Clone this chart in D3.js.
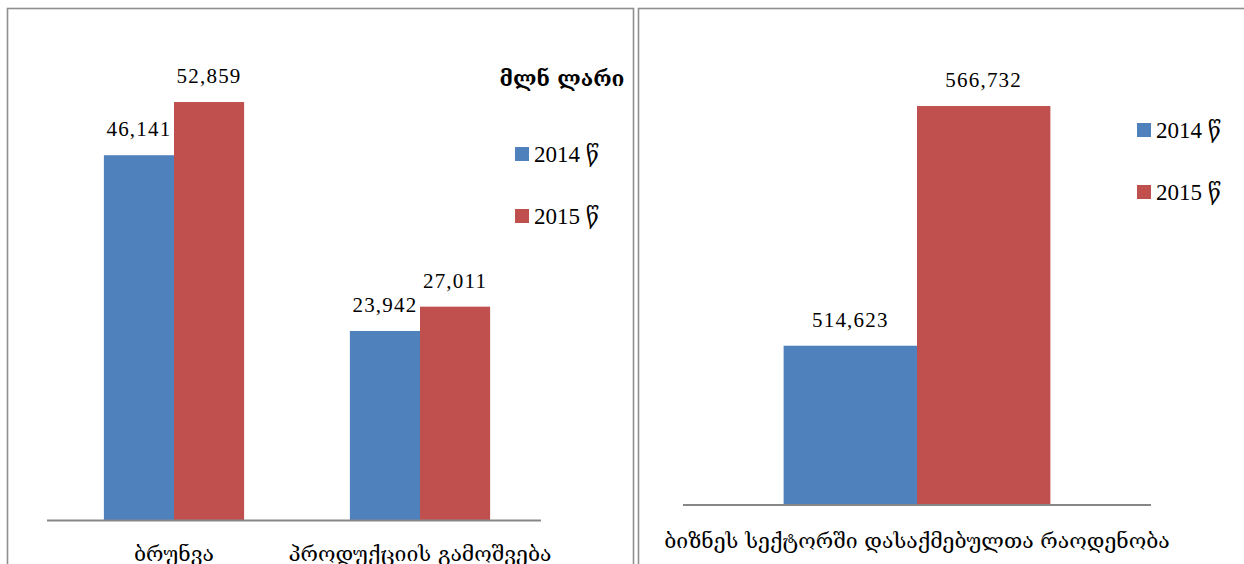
<!DOCTYPE html>
<html>
<head>
<meta charset="utf-8">
<script src="https://cdn.jsdelivr.net/npm/d3@7"></script>
<style>
  body { margin: 0; background: #fff; }
  svg { display: block; font-family: "Liberation Serif", "DejaVu Serif", serif; }
  .axis path { stroke: #878787; stroke-width: 2; }
  .axis .tick line { display: none; }
</style>
</head>
<body>
<div id="chart_div"></div>
<script>
//---------------------------DATA--------------------------------//
const years = ["2014 წ", "2015 წ"];
const colors = ["#4F81BD", "#C0504D"];

const leftCategories = ["ბრუნვა", "პროდუქციის გამოშვება"];
const left2014 = [46141, 23942];
const left2015 = [52859, 27011];
const leftUnit = "მლნ ლარი";
const leftDomain = [0, 60000];

const rightCategories = ["ბიზნეს სექტორში დასაქმებულთა რაოდენობა"];
const right2014 = [514623];
const right2015 = [566732];
const rightDomain = [480000, 580000];

//---------------------------SVG---------------------------------//
const width = 1244;
const height = 564;

const svg = d3.select("#chart_div").append("svg")
  .attr("width", width)
  .attr("height", height);

// panel frames (bottom is cut off by the picture)
svg.append("rect")
  .attr("x", 7.5).attr("y", 8.5)
  .attr("width", 626).attr("height", 600)
  .attr("fill", "none").attr("stroke", "#8f8f8f").attr("stroke-width", 1.6);
svg.append("rect")
  .attr("x", 638.5).attr("y", 8.5)
  .attr("width", 640).attr("height", 600)
  .attr("fill", "none").attr("stroke", "#8f8f8f").attr("stroke-width", 1.6);

const fmt = d3.format(",");

//-------------------------PANELS--------------------------------//
function drawPanel(opt) {
  const rows = opt.categories.map((c, i) => ({
    cat: c,
    vals: [opt.v2014[i], opt.v2015[i]]
  }));

  const x = d3.scaleBand()
    .domain(opt.categories)
    .range(opt.xRange)
    .paddingInner(0.43)
    .paddingOuter(0.215);

  const xIn = d3.scaleBand()
    .domain(years)
    .range([0, x.bandwidth()]);

  const y = d3.scaleLinear()
    .domain(opt.domain)
    .range(opt.yRange);

  const g = svg.append("g");

  const groups = g.selectAll("g.grp")
    .data(rows)
    .enter().append("g")
    .attr("class", "grp")
    .attr("transform", d => "translate(" + x(d.cat) + ",0)");

  groups.selectAll("rect")
    .data(d => d.vals.map((v, j) => ({ year: years[j], v: v, j: j })))
    .enter().append("rect")
    .attr("x", d => xIn(d.year))
    .attr("y", d => y(d.v))
    .attr("width", xIn.bandwidth())
    .attr("height", d => opt.yRange[0] - y(d.v))
    .attr("fill", d => colors[d.j]);

  groups.selectAll("text.val")
    .data(d => d.vals.map((v, j) => ({ year: years[j], v: v, j: j })))
    .enter().append("text")
    .attr("class", "val")
    .attr("x", d => xIn(d.year) + xIn.bandwidth() / 2)
    .attr("y", d => y(d.v) - 19)
    .attr("text-anchor", "middle")
    .attr("font-size", 21)
    .attr("letter-spacing", 1.2)
    .text(d => fmt(d.v));

  // baseline + category labels
  const axis = d3.axisBottom(x)
    .tickSize(0)
    .tickSizeOuter(0)
    .tickPadding(opt.labelPad);

  const ax = g.append("g")
    .attr("class", "axis")
    .attr("transform", "translate(0," + opt.yRange[0] + ")")
    .call(axis);
  ax.select(".domain")
    .attr("d", "M" + opt.lineRange[0] + ",0H" + opt.lineRange[1]);
  ax.selectAll(".tick text")
    .attr("font-size", 21.2)
    .attr("font-family", "'DejaVu Serif', serif")
    .attr("fill", "#000");

  // legend
  const lg = g.append("g")
    .attr("transform", "translate(" + opt.legend[0] + "," + opt.legend[1] + ")");
  years.forEach((yr, j) => {
    lg.append("rect")
      .attr("x", 0).attr("y", j * opt.legendGap)
      .attr("width", 14).attr("height", 14)
      .attr("fill", colors[j]);
    lg.append("text")
      .attr("x", 19).attr("y", j * opt.legendGap + 15)
      .attr("font-size", 23)
      .text(yr);
  });

  return g;
}

const left = drawPanel({
  categories: leftCategories, v2014: left2014, v2015: left2015,
  domain: leftDomain, xRange: [51, 543], yRange: [520.5, 45.5],
  lineRange: [47, 541], labelPad: 25,
  legend: [515, 147], legendGap: 62
});

left.append("text")
  .attr("x", 562).attr("y", 86)
  .attr("text-anchor", "middle")
  .attr("font-size", 21)
  .attr("font-weight", "bold")
  .attr("font-family", "'DejaVu Serif', serif")
  .text(leftUnit);

drawPanel({
  categories: rightCategories, v2014: right2014, v2015: right2015,
  domain: rightDomain, xRange: [683, 1151], yRange: [505, 45],
  lineRange: [683, 1151], labelPad: 28,
  legend: [1137, 123], legendGap: 62
});
</script>
</body>
</html>
